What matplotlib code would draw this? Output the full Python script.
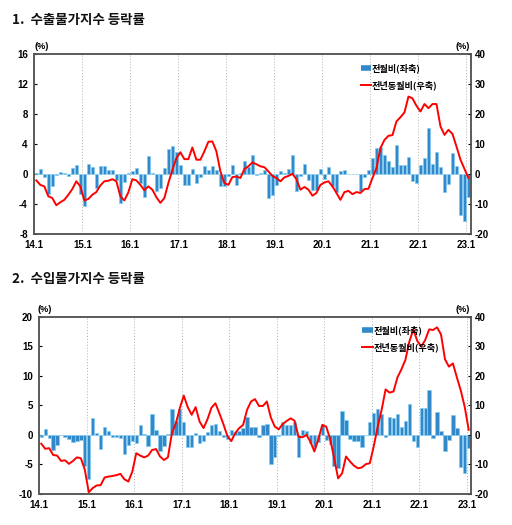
import matplotlib
matplotlib.use("Agg")
import matplotlib.pyplot as plt
from matplotlib.lines import Line2D
import numpy as np

plt.rcParams['font.family'] = ['Noto Sans CJK KR', 'DejaVu Sans']

tick_labels = ['14.1', '15.1', '16.1', '17.1', '18.1', '19.1', '20.1', '21.1', '22.1', '23.1']

# 1. Export price index: month-on-month (left), year-on-year (right)
exp_mom = [0.2, 0.7, -0.4, -2.7, -1.6, -0.1, 0.3, 0.2, -0.3, 0.8, 1.2, -2.6,
           -4.3, 1.3, 1.0, -1.9, 1.1, 1.1, 0.6, 0.6, -0.8, -3.8, -1.1, 0.1,
           0.4, 0.8, -1.2, -3.0, 2.4, 0.1, -2.2, -1.9, 0.8, 3.4, 3.8, 3.0,
           1.2, -1.4, -1.4, 0.7, -1.2, -0.4, 1.1, 0.5, 1.1, 0.5, -1.6, -1.6,
           -0.3, 1.2, -1.4, 0.2, 1.7, 0.9, 2.5, -0.1, 0.2, 0.5, -3.2, -2.8,
           -1.4, 0.45, 0.2, 0.7, 2.6, -2.2, -0.3, 1.3, -0.8, -2.1, -2.1, 0.7,
           -0.6, 1.0, -1.6, -2.4, 0.45, 0.5, -0.05, -0.05, -0.05, -2.2, -0.45, 0.6,
           2.2, 3.5, 3.6, 2.5, 1.8, 0.9, 3.9, 1.2, 1.2, 2.3, -0.9, -1.2,
           1.2, 2.2, 6.1, 1.3, 3.0, 1.0, -2.4, -1.3, 2.8, 1.1, -5.4, -6.2,
           -3.0]
exp_yoy = [-2.1, -3.6, -4.1, -7.4, -8.0, -10.4, -9.4, -8.6, -6.9, -5.0, -2.4, -4.1,
           -8.8, -8.3, -6.9, -6.0, -3.8, -2.4, -2.2, -1.7, -2.4, -7.4, -8.8, -6.1,
           -1.7, -2.1, -3.6, -5.4, -4.1, -5.2, -7.7, -9.6, -8.0, -3.0, 1.4, 5.3,
           7.3, 5.0, 5.0, 8.9, 4.8, 4.8, 7.6, 10.8, 10.9, 7.6, 0.9, -3.0,
           -3.6, -1.0, -0.8, -1.3, 1.7, 2.6, 3.9, 3.3, 2.6, 2.3, 0.9, -0.6,
           -1.3, -2.4, -1.1, -0.6, 0.1, -1.7, -5.2, -4.3, -5.2, -7.2, -6.3, -3.6,
           -2.8, -2.4, -4.1, -6.3, -8.6, -6.0, -5.6, -6.7, -6.0, -6.3, -5.0, -4.9,
           -1.3, 2.0, 8.7, 11.4, 12.8, 13.0, 17.6, 19.0, 20.6, 25.9, 25.3, 22.8,
           20.9, 23.4, 22.0, 23.4, 23.4, 15.9, 13.1, 14.8, 13.4, 9.2, 4.8, 1.7,
           -1.3]

# 2. Import price index
imp_mom = [-0.3, 1.0, -0.5, -2.5, -1.7, -0.05, -0.4, -0.7, -1.2, -1.1, -0.9, -5.2,
           -7.5, 2.8, 0.3, -2.4, 1.3, 0.6, -0.35, -0.35, -0.6, -3.2, -1.7, -1.1,
           -1.4, 1.6, 0.1, -1.9, 3.5, 0.8, -2.8, -1.8, 0.2, 4.4, 2.4, 4.3,
           2.2, -2.0, -2.1, 0.4, -1.4, -1.1, 0.5, 1.6, 1.8, 0.7, -0.3, -0.7,
           0.85, 0.45, 0.6, 1.2, 3.0, 1.4, 1.4, -0.3, 1.7, 1.8, -4.9, -3.7,
           -0.2, 2.2, 1.7, 1.75, 2.1, -3.7, 0.8, 0.7, -1.3, -2.0, -1.2, 1.6,
           -0.8, -1.5, -5.3, -5.6, 4.0, 2.5, -0.7, -1.0, -1.1, -2.1, -0.05, 2.1,
           3.7, 4.4, 3.6, -0.3, 3.0, 2.8, 3.6, 1.3, 2.4, 5.3, -1.0, -2.0,
           4.5, 4.6, 7.6, -0.6, 3.8, 0.6, -2.7, -0.8, 3.3, 1.2, -5.5, -6.5,
           -2.3]
imp_yoy = [-3.0, -4.7, -4.5, -6.8, -7.0, -8.8, -8.6, -9.8, -8.8, -7.6, -7.9, -11.8,
           -19.4, -18.0, -17.1, -17.0, -14.4, -14.1, -13.9, -13.6, -13.2, -15.0, -15.8, -12.4,
           -6.2, -7.0, -7.6, -7.0, -5.1, -4.8, -7.3, -8.5, -7.6, 0.6, 3.9, 9.0,
           13.3, 9.4, 6.8, 9.4, 4.5, 2.3, 5.3, 9.2, 10.7, 7.3, 3.7, -0.3,
           -2.1, 0.6, 2.3, 3.4, 8.5, 11.3, 12.1, 9.8, 9.8, 11.3, 5.9, 2.8,
           1.9, 3.7, 4.7, 5.6, 4.8, -0.6, -0.8, 0.0, -2.3, -5.6, -1.5, 3.4,
           2.8, -1.5, -7.9, -14.7, -13.0, -7.3, -9.0, -10.4, -11.3, -11.0, -9.9, -9.6,
           -3.9, 2.8, 8.5, 15.4, 14.3, 14.7, 19.5, 22.2, 25.4, 31.6, 35.7, 31.8,
           29.9, 32.1, 35.7, 35.5, 36.4, 34.0, 25.6, 23.1, 24.2, 19.5, 15.0, 9.4,
           1.7]

titles = ['1.  수출물가지수 등락률', '2.  수입물가지수 등락률']
legend_labels = ['전월비(좌축)', '전년동월비(우축)']

BAR_FACE = '#3288c9'
BAR_EDGE = '#7fcdf2'
LINE_C = '#ff0000'
SPINE_C = '#555555'
W, H = 512, 525

fig = plt.figure(figsize=(W / 100, H / 100), dpi=100)


def panel(rect, mom, yoy, lylim, lyticks, rylim, ryticks, title, title_y, pct_y, pct_lx):
    l, t, r, b = rect
    ax = fig.add_axes([l / W, 1 - b / H, (r - l) / W, (b - t) / H])
    n = len(mom)
    x = np.arange(n) + 0.5
    ax.bar(x, mom, width=0.85, color=BAR_FACE, edgecolor=BAR_EDGE, linewidth=0.5, zorder=2)
    ax.set_xlim(0, n)
    ax.set_ylim(*lylim)
    ax.set_yticks(lyticks)
    ax.set_yticklabels([f'{v:g}' for v in lyticks])
    xt = np.arange(0, n, 12)
    ax.set_xticks(xt)
    ax.set_xticklabels(tick_labels)
    for xv in xt[1:]:
        ax.axvline(xv, color='#b0b0b0', lw=0.7, ls=(0, (1, 2)), zorder=1)
    ax2 = ax.twinx()
    ax2.plot(x, yoy, color=LINE_C, lw=1.4, zorder=3)
    ax2.set_ylim(*rylim)
    ax2.set_yticks(ryticks)
    ax2.set_yticklabels([f'{v:g}' for v in ryticks])
    for a in (ax, ax2):
        for s in a.spines.values():
            s.set_color(SPINE_C)
            s.set_linewidth(1.1)
        for lab in a.get_yticklabels() + a.get_xticklabels():
            lab.set_fontfamily(['Liberation Sans', 'DejaVu Sans'])
            lab.set_fontweight('bold')
            lab.set_fontsize(7)
    ax.tick_params(axis='y', direction='in', length=2, pad=4.7, colors='black')
    ax.tick_params(axis='x', length=0, pad=4)
    ax2.tick_params(axis='y', direction='in', length=2, pad=3, colors='black')
    handles = [Line2D([], [], color=BAR_FACE, lw=4, solid_capstyle='butt'),
               Line2D([], [], color=LINE_C, lw=1.4)]
    ax2.legend(handles, legend_labels, loc='upper left',
               bbox_to_anchor=(0.73, 0.995), frameon=False,
               handlelength=1.1, handletextpad=0.1, labelspacing=0.8,
               prop={'family': ['Noto Sans CJK KR', 'DejaVu Sans'],
                     'size': 6.6, 'weight': 'bold'})
    fig.text(12 / W, 1 - title_y / H, title, fontsize=9.7, fontweight='bold',
             va='center', ha='left', color='#111111')
    fig.text(pct_lx / W, 1 - pct_y / H, '(%)', fontsize=6.5, fontweight='bold',
             va='center', ha='center', family=['Liberation Sans', 'DejaVu Sans'])
    fig.text(463 / W, 1 - pct_y / H, '(%)', fontsize=6.5, fontweight='bold',
             va='center', ha='center', family=['Liberation Sans', 'DejaVu Sans'])
    return ax, ax2


panel((34.3, 54.3, 470.5, 234.0), exp_mom, exp_yoy, (-8, 16), [-8, -4, 0, 4, 8, 12, 16],
      (-20, 40), [-20, -10, 0, 10, 20, 30, 40], titles[0], 20, 46.7, 42)
panel((39.3, 316.7, 470.7, 494.0), imp_mom, imp_yoy, (-10, 20), [-10, -5, 0, 5, 10, 15, 20],
      (-20, 40), [-20, -10, 0, 10, 20, 30, 40], titles[1], 279, 309.3, 45)

fig.savefig('out.png', dpi=100)
